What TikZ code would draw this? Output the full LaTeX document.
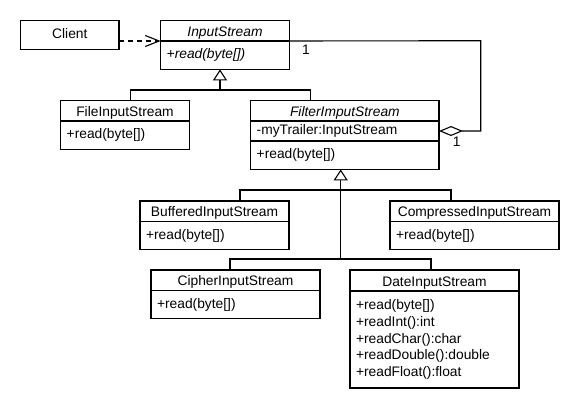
\documentclass[tikz,border=0pt]{standalone}
\usepackage{fontspec}
\setmainfont{Liberation Sans}
\usetikzlibrary{arrows.meta, positioning}

\begin{document}
\begin{tikzpicture}[x=1pt, y=-1pt, line width=1.1pt, node distance=0pt,
		every node/.style={font=\fontsize{13.8}{16.7}\selectfont, outer sep=0pt},
		classname/.style={draw, anchor=north west, inner sep=0pt, minimum height=20.3pt, text height=11pt, text depth=0pt},
		classops/.style={draw, align=left, inner xsep=6pt, inner ysep=0pt, minimum height=28.4pt},
		inherit/.style={-{Triangle[open, length=11pt, width=14pt]}},
		depend/.style={dash pattern=on 5pt off 4pt, -{Straight Barb[length=14pt, width=11pt]}},
		aggr/.style={{Diamond[open, length=24pt, width=10pt]}-}]
			\useasboundingbox (0,0) rectangle (580,410);
			% Nodes
			\node[draw, anchor=north west, inner sep=0pt, minimum width=98.3pt, minimum height=28.6pt, text depth=3pt] (client) at (20.7,20.7) {Client};
			\node[classname, minimum width=128.6pt] (input-title) at (160.7,20.7) {\textit{InputStream}};
			\node[classops, text width=116.6pt, below=of input-title] (input-ops) {\textit{+read(byte[])}};
			\node[classname, minimum width=188.3pt] (filter-title) at (250.7,100.7) {\textit{FilterImputStream}};
			\node[classops, text width=176.3pt, minimum height=20pt, below=of filter-title] (filter-attr) {-myTrailer:InputStream};
			\node[classops, text width=176.3pt, below=of filter-attr] (filter-ops) {+read(byte[])};
			\foreach \cls/\x/\y/\w/\cname in {file/60.7/100.7/128.6/FileInputStream, buffered/140/201/149/BufferedInputStream, compressed/390/201/169/CompressedInputStream, cipher/151/270/169/CipherInputStream}
			{\pgfmathsetmacro{\tw}{\w-12}
			\node[classname, minimum width=\w pt] (\cls-title) at (\x,\y) {\cname};
			\node[classops, text width=\tw pt, below=of \cls-title] (\cls-ops) {+read(byte[])};}
			\node[classname, minimum width=169pt, minimum height=21pt] (date-title) at (350,270) {DateInputStream};
			\node[classops, text width=157pt, minimum height=97pt, below=of date-title] (date-ops) {+read(byte[])\\+readInt():int\\+readChar():char\\+readDouble():double\\+readFloat():float};
			\node (mult-input) at (306,50) {1};
			\node (mult-filter) at (456.7,141.7) {1};
			% Edges
			\coordinate (bus1) at (220,90);
			\coordinate (bus2) at (340.7,190);
			\coordinate (bus3) at (340.7,259);
			\coordinate (agg) at (480.7,40.7);
			\draw[depend] (client.east |- input-title.south west) -- (input-title.south west);
			\draw[inherit] (bus1) -- ([xshift=-5pt]input-ops.south);
			\draw ([xshift=5.7pt]file-title.north) |- (bus1) -| ([xshift=-34.15pt]filter-title.north);
			\draw[inherit] (bus3) -- ([xshift=-4.15pt]filter-ops.south);
			\draw ([xshift=25.5pt]buffered-title.north) |- (bus2) -| ([xshift=-23.5pt]compressed-title.north);
			\draw ([xshift=-5.5pt]cipher-title.north) |- (bus3) -| ([xshift=-3.5pt]date-title.north);
			\draw[aggr] (filter-attr.east) -| (agg) -- (input-title.south east);
		\end{tikzpicture}
\end{document}
